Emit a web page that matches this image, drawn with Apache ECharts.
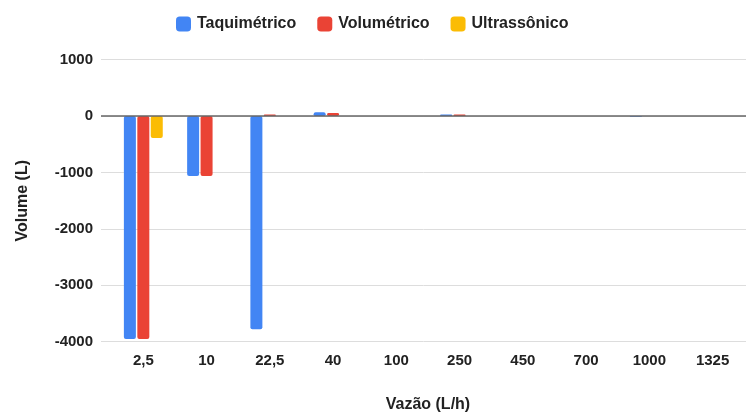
<!DOCTYPE html>
<html>
<head>
<meta charset="utf-8">
<script src="https://cdn.jsdelivr.net/npm/echarts@6/dist/echarts.min.js"></script>
<style>
  html, body { margin: 0; padding: 0; background: #fff; }
  #chart { width: 747px; height: 412px; }
</style>
</head>
<body>
<div id="chart"></div>
<script>
// Flow rates (L/h) along the horizontal axis
const categories = ['2,5', '10', '22,5', '40', '100', '250', '450', '700', '1000', '1325'];

// Volume error per meter type (L)
const taquimetrico = [-3950, -1060, -3780, 70, 0, 30, 0, 0, -10, 0];
const volumetrico  = [-3950, -1060, 30, 53, 0, 30, 0, 0, 0, 0];
const ultrassonico = [-390, 0, 0, 0, 0, 0, 0, 0, 0, 0];

const seriesNames = ['Taquimétrico', 'Volumétrico', 'Ultrassônico'];
const seriesColors = ['#4285F4', '#EA4335', '#FBBC04'];

// Value axis range
const yMin = -4000, yMax = 1000, yStep = 1000;

const FONT = 'Arial, "Liberation Sans", sans-serif';
const TEXT = '#222222';

const chart = echarts.init(document.getElementById('chart'), null, { renderer: 'canvas' });

function barSeries(name, data, color) {
  return {
    name: name,
    type: 'bar',
    xAxisIndex: 0,
    yAxisIndex: 0,
    data: data,
    barWidth: 12,
    barGap: '12%',
    itemStyle: { color: color, borderRadius: 2 },
    emphasis: { disabled: true },
    z: 3
  };
}

chart.setOption({
  animation: false,
  textStyle: { fontFamily: FONT },
  legend: {
    data: seriesNames,
    left: 171,
    top: 11,
    icon: 'roundRect',
    itemWidth: 15,
    itemHeight: 15,
    itemGap: 21,
    textStyle: { fontFamily: FONT, fontSize: 16, fontWeight: 'bold', color: TEXT, padding: [0, 0, 0, 1] }
  },
  grid: [
    // bars
    { left: 111.7, right: 2.8, top: 59.7, bottom: 70.3, containLabel: false, outerBoundsMode: 'none' },
    // gridlines and value labels, slightly wider than the bar area
    { left: 101, right: 1, top: 59.7, bottom: 70.3, containLabel: false, outerBoundsMode: 'none' }
  ],
  xAxis: [
    {
      type: 'category',
      gridIndex: 0,
      data: categories,
      axisLine: { show: false },
      axisTick: { show: false },
      axisLabel: { margin: 12, fontSize: 15, fontWeight: 'bold', color: TEXT, fontFamily: FONT },
      name: 'Vazão (L/h)',
      nameLocation: 'middle',
      nameGap: 55,
      nameTextStyle: { fontSize: 16, fontWeight: 'bold', color: TEXT, fontFamily: FONT }
    },
    {
      type: 'value',
      gridIndex: 1,
      min: 0,
      max: 1,
      show: false
    }
  ],
  yAxis: [
    {
      type: 'value',
      gridIndex: 0,
      min: yMin,
      max: yMax,
      interval: yStep,
      show: false,
      splitLine: { show: false }
    },
    {
      type: 'value',
      gridIndex: 1,
      min: yMin,
      max: yMax,
      interval: yStep,
      axisLine: { show: false },
      axisTick: { show: false },
      axisLabel: {
        margin: 8, fontSize: 15, fontWeight: 'bold', color: TEXT, fontFamily: FONT,
        formatter: function (v) { return String(v); }
      },
      splitLine: {
        show: true,
        lineStyle: { color: '#dddddd', width: 1 }
      },
      name: 'Volume (L)',
      nameLocation: 'middle',
      nameGap: 70,
      nameTextStyle: { fontSize: 16, fontWeight: 'bold', color: TEXT, fontFamily: FONT }
    }
  ],
  series: [
    barSeries(seriesNames[0], taquimetrico, seriesColors[0]),
    barSeries(seriesNames[1], volumetrico, seriesColors[1]),
    barSeries(seriesNames[2], ultrassonico, seriesColors[2]),
    // baseline at zero across the full gridline width
    {
      type: 'line',
      xAxisIndex: 1,
      yAxisIndex: 1,
      data: [],
      silent: true,
      z: 2,
      markLine: {
        silent: true,
        symbol: 'none',
        label: { show: false },
        lineStyle: { color: '#666666', width: 1.5, type: 'solid' },
        data: [{ yAxis: 0 }]
      }
    }
  ]
});
</script>
</body>
</html>
